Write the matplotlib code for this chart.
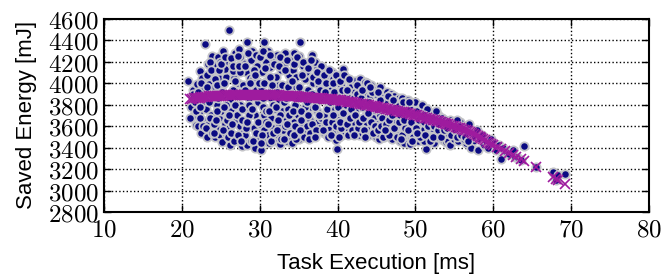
import numpy as np
import matplotlib.pyplot as plt
from matplotlib.ticker import FuncFormatter

plt.rcParams['mathtext.fontset'] = 'cm'
plt.rcParams['font.family'] = ['Liberation Sans', 'DejaVu Sans']

# measured task runs, batch A (execution time, saved energy)
task_ms = [
    20.8, 21.4, 21.6, 21.2, 21.8, 21.5, 21.9,
    22.1, 22.3, 22.5, 22.2, 22.7, 22.4, 22.8, 22.6, 22.9,
    23.0, 23.2, 23.4, 23.1, 23.6, 23.3, 23.8, 23.5, 23.7, 23.9, 23.2,
    24.2, 24.0, 24.4, 24.6, 24.3, 24.8, 24.5, 24.1, 24.7, 24.9, 24.4,
    25.1, 25.3, 25.5, 25.0, 25.7, 25.2, 25.6, 25.8, 25.4, 25.9, 25.5,
    26.0, 26.2, 26.4, 26.1, 26.6, 26.3, 26.8, 26.5, 26.7, 26.9, 26.2, 26.6,
    27.0, 27.3, 27.5, 27.2, 27.7, 27.4, 27.8, 27.1, 27.6, 27.9, 27.5,
    28.0, 28.3, 28.5, 28.2, 28.7, 28.4, 28.9, 28.1, 28.6, 28.8, 28.3,
    29.0, 29.3, 29.5, 29.2, 29.7, 29.4, 29.8, 29.1, 29.6, 29.9, 29.4,
    30.2, 30.5, 30.0, 30.3, 30.7, 30.4, 30.8, 30.1, 30.6, 30.9, 30.5,
    31.0, 31.2, 31.5, 31.3, 31.7, 31.4, 31.8, 31.1, 31.6, 31.9, 31.3,
    32.0, 32.2, 32.5, 32.3, 32.7, 32.4, 32.8, 32.1, 32.6, 32.9, 32.5,
    33.0, 33.3, 33.5, 33.2, 33.7, 33.4, 33.8, 33.1, 33.6, 33.9, 33.3,
    34.1, 34.0, 34.4, 34.6, 34.3, 34.8, 34.5, 34.2, 34.7, 34.9, 34.4,
    35.2, 35.0, 35.4, 35.6, 35.3, 35.8, 35.5, 35.1, 35.7, 35.9,
    36.0, 36.3, 36.7, 36.5, 36.2, 36.8, 36.4, 36.6, 36.9, 36.1,
    37.0, 37.3, 37.5, 37.2, 37.7, 37.4, 37.8, 37.1, 37.6, 37.9,
    38.0, 38.3, 38.5, 38.2, 38.7, 38.4, 38.8, 38.1, 38.6, 38.9,
    39.0, 39.3, 39.5, 39.2, 39.7, 39.4, 39.8, 39.1, 39.6, 39.9, 39.8,
    40.0, 40.3, 40.7, 40.5, 40.2, 40.8, 40.4, 40.6, 40.9, 40.1,
    41.0, 41.3, 41.5, 41.2, 41.7, 41.4, 41.8, 41.1, 41.6, 41.9,
    42.0, 42.3, 42.5, 42.2, 42.7, 42.4, 42.8, 42.1, 42.6, 42.9,
    43.0, 43.3, 43.5, 43.2, 43.7, 43.4, 43.8, 43.1, 43.6, 43.9,
    44.0, 44.3, 44.5, 44.2, 44.7, 44.4, 44.8, 44.1, 44.6, 44.9,
    45.0, 45.3, 45.5, 45.2, 45.7, 45.4, 45.8, 45.1, 45.6, 45.9,
    46.0, 46.3, 46.5, 46.2, 46.7, 46.4, 46.8, 46.1, 46.6, 46.9,
    47.0, 47.3, 47.5, 47.2, 47.7, 47.4, 47.8, 47.1, 47.6, 47.9,
    48.0, 48.3, 48.5, 48.2, 48.7, 48.4, 48.8, 48.1, 48.6, 48.9,
    49.0, 49.3, 49.5, 49.2, 49.7, 49.4, 49.8, 49.1, 49.6,
    50.0, 50.3, 50.5, 50.2, 50.7, 50.4, 50.8, 50.1, 50.9,
    51.0, 51.4, 51.5, 51.2, 51.7, 51.4, 51.8, 51.1, 51.9,
    52.0, 52.3, 52.5, 52.2, 52.7, 52.4, 52.8, 52.1, 52.9,
    53.0, 53.3, 53.5, 53.2, 53.7, 53.4, 53.8, 53.9,
    54.0, 54.4, 54.5, 54.2, 54.7, 54.8, 54.1, 54.4,
    55.0, 55.3, 55.7, 55.2, 55.5, 55.8, 55.4,
    56.0, 56.3, 56.5, 56.7, 56.2, 56.9,
    57.0, 57.4, 57.7, 57.2, 57.9,
    58.0, 58.3, 58.6, 58.8,
    59.1, 59.4, 59.7,
    60.1, 60.4, 60.8,
    61.0, 61.3, 61.6,
    62.1, 62.5, 62.8,
    63.2, 63.6,
    64.0, 65.5, 67.7, 68.1, 68.3, 69.2,
]
saved_mj = [
    4023, 3940, 3700, 3780, 3610, 3860, 3990,
    3600, 4110, 3880, 3720, 3960, 3540, 3800, 4050, 3650,
    4363, 3500, 4180, 3760, 3900, 3620, 4060, 3990, 3700, 4250, 3850,
    3494, 4120, 3580, 4240, 3960, 3680, 3800, 3900, 4050, 3520, 4170,
    3450, 4300, 3620, 3740, 4060, 3980, 3530, 4200, 3880, 3700, 4130,
    4497, 3420, 4180, 3580, 3940, 3760, 4280, 3500, 4050, 3650, 3840, 4110,
    3470, 4320, 3600, 4000, 3416, 3800, 4190, 3700, 3920, 3540, 4240,
    3640, 4382, 3460, 4100, 3760, 3980, 4220, 3520, 3860, 4050, 3420,
    4300, 3580, 3940, 3440, 4160, 3700, 3820, 4040, 3500, 4250, 3400,
    3382, 4382, 3620, 4100, 3480, 3780, 4200, 3960, 3560, 4020, 3700,
    4300, 3440, 3860, 4150, 3580, 3680, 4000, 3520, 4240, 3760, 3920,
    3460, 4260, 3620, 3980, 4120, 3520, 3740, 4060, 3430, 4200, 3840,
    3560, 4280, 3460, 3900, 4080, 3680, 3500, 4180, 3760, 4000, 3600,
    3438, 4220, 3640, 3960, 4120, 3520, 3800, 3560, 4060, 3700, 4280,
    4382, 3480, 3900, 4160, 3600, 4040, 3720, 4250, 3540, 3820,
    4100, 3500, 4264, 3660, 3940, 3560, 4180, 3780, 4000, 3600,
    3520, 4140, 3640, 3900, 4060, 3740, 3580, 4200, 3980, 3680,
    4150, 3540, 3960, 3700, 4080, 3600, 3820, 4020, 3520, 3900,
    3580, 4100, 3500, 3940, 3680, 4040, 3560, 3760, 3880, 3391, 3470,
    4060, 3560, 4130, 3700, 3920, 3620, 3980, 3520, 3860, 3660,
    4060, 3580, 3940, 3700, 4000, 3520, 3640, 3880, 3760, 3980,
    3560, 4020, 3660, 3920, 3520, 3760, 3960, 3620, 3840, 4040,
    3600, 3980, 4014, 3540, 3700, 3900, 3580, 3780, 3640, 3960,
    3520, 3980, 3620, 3880, 3560, 3700, 3940, 3760, 3680, 3500,
    3900, 3480, 3960, 3620, 3560, 3700, 3880, 3540, 3800, 3640,
    3500, 3920, 3580, 3680, 3860, 3540, 3640, 3840, 3720, 3900,
    3480, 3880, 3600, 3540, 3820, 3660, 3520, 3760, 3700, 3860,
    3460, 3860, 3560, 3640, 3800, 3500, 3600, 3780, 3440, 3680,
    3840, 3430, 3540, 3620, 3780, 3480, 3580, 3700, 3660,
    3820, 3460, 3560, 3640, 3760, 3520, 3600, 3700, 3480,
    3560, 3391, 3620, 3740, 3500, 3680, 3580, 3460, 3700,
    3480, 3720, 3540, 3620, 3660, 3440, 3500, 3580, 3700,
    3540, 3680, 3470, 3600, 3640, 3520, 3580, 3450,
    3620, 3656, 3500, 3460, 3580, 3640, 3540, 3420,
    3480, 3600, 3640, 3530, 3460, 3580, 3660,
    3520, 3600, 3440, 3560, 3480, 3620,
    3540, 3460, 3500, 3400, 3560,
    3382, 3480, 3520, 3420,
    3460, 3400, 3480,
    3441, 3380, 3420,
    3298, 3400, 3360,
    3340, 3376, 3310,
    3300, 3280,
    3413, 3220, 3173, 3095, 3140, 3151,
]

# measured task runs, batch B
task_ms_b = [
    21.05, 21.35, 21.65, 21.85,
    22.05, 22.25, 22.45, 22.65, 22.85, 22.35,
    23.05, 23.25, 23.45, 23.65, 23.85, 23.15, 23.55, 23.75,
    24.05, 24.25, 24.45, 24.65, 24.85, 24.15, 24.55, 24.75, 24.35,
    25.05, 25.25, 25.45, 25.65, 25.85, 25.15, 25.55, 25.75, 25.35,
    26.05, 26.25, 26.45, 26.65, 26.85, 26.15, 26.55, 26.75, 26.35,
    27.05, 27.25, 27.45, 27.65, 27.85, 27.15, 27.55, 27.75, 27.35,
    28.05, 28.25, 28.45, 28.65, 28.85, 28.15, 28.55, 28.75, 28.35,
    29.05, 29.25, 29.45, 29.65, 29.85, 29.15, 29.55, 29.75, 29.35,
    30.05, 30.25, 30.45, 30.65, 30.85, 30.15, 30.55, 30.75, 30.35,
    31.05, 31.25, 31.45, 31.65, 31.85, 31.15, 31.55, 31.75, 31.35,
    32.05, 32.25, 32.45, 32.65, 32.85, 32.15, 32.55, 32.75, 32.35,
    33.05, 33.25, 33.45, 33.65, 33.85, 33.15, 33.55, 33.75, 33.35,
    34.05, 34.25, 34.45, 34.65, 34.85, 34.15, 34.55, 34.75, 34.35,
    35.05, 35.25, 35.45, 35.65, 35.85, 35.15, 35.55, 35.75, 35.35,
    36.05, 36.25, 36.45, 36.65, 36.85, 36.15, 36.55, 36.75, 36.35,
    37.05, 37.25, 37.45, 37.65, 37.85, 37.15, 37.55, 37.75, 37.35,
    38.05, 38.25, 38.45, 38.65, 38.85, 38.15, 38.55, 38.75, 38.35,
    39.05, 39.25, 39.45, 39.65, 39.85, 39.15, 39.55, 39.75, 39.35,
    40.05, 40.25, 40.45, 40.65, 40.85, 40.15, 40.55, 40.75, 40.35,
    41.05, 41.25, 41.45, 41.65, 41.85, 41.15, 41.55, 41.75,
    42.05, 42.25, 42.45, 42.65, 42.85, 42.15, 42.55, 42.75,
    43.05, 43.25, 43.45, 43.65, 43.85, 43.15, 43.55, 43.75,
    44.05, 44.25, 44.45, 44.65, 44.85, 44.15, 44.55,
    45.05, 45.25, 45.45, 45.65, 45.85, 45.15, 45.55,
    46.05, 46.25, 46.45, 46.65, 46.85, 46.15, 46.55,
    47.05, 47.25, 47.45, 47.65, 47.85, 47.15, 47.55,
    48.05, 48.25, 48.45, 48.65, 48.85, 48.15, 48.55,
    49.05, 49.25, 49.45, 49.65, 49.85, 49.15, 49.55,
    50.05, 50.25, 50.45, 50.65, 50.85, 50.15,
    51.05, 51.25, 51.45, 51.65, 51.85, 51.15,
    52.05, 52.25, 52.45, 52.65, 52.85, 52.15,
    53.05, 53.25, 53.45, 53.65, 53.85,
    54.05, 54.25, 54.55, 54.85,
    55.05, 55.35, 55.65, 55.9,
    56.1, 56.4, 56.8,
]
saved_mj_b = [
    3680, 3900, 3820, 3740,
    3920, 3680, 4000, 3600, 3880, 3780,
    3580, 4080, 3820, 4200, 3540, 3960, 3680, 4120,
    3620, 4040, 3740, 3860, 4200, 3540, 3980, 4120, 3660,
    4180, 3560, 4000, 3800, 3500, 3920, 4240, 3660, 3780,
    3700, 4230, 3620, 3460, 4020, 3900, 4160, 3800, 3540,
    3880, 3520, 4100, 3760, 3980, 4250, 3460, 3660, 4160,
    3940, 3580, 4280, 3700, 3460, 4160, 3800, 4000, 3640,
    3760, 4120, 3540, 3880, 4000, 3460, 4260, 3640, 4080,
    4240, 3520, 3860, 4140, 3640, 3440, 4000, 3740, 4300,
    3620, 4060, 3460, 3800, 4180, 3740, 3980, 3540, 4260,
    3780, 3560, 4160, 3700, 3980, 3920, 4240, 3480, 3660,
    3820, 4120, 3620, 3960, 3540, 3480, 4220, 3700, 3860,
    3900, 3740, 4180, 3480, 3860, 4020, 3600, 4240, 3520,
    3960, 3660, 4080, 3500, 3780, 3560, 4200, 3880, 3740,
    3820, 4140, 3540, 3900, 4060, 3700, 4220, 3620, 3480,
    3780, 3560, 4020, 3840, 4160, 3500, 3700, 3940, 4100,
    3860, 4080, 3640, 3760, 4120, 3560, 4000, 3500, 3920,
    3820, 3640, 4000, 3760, 4080, 3520, 3920, 3600, 3700,
    3780, 4020, 3580, 3840, 4080, 3500, 3940, 3720, 3640,
    3800, 3620, 4040, 3860, 3560, 3940, 3680, 3760,
    3860, 3700, 3980, 3580, 3800, 3520, 3900, 3640,
    3860, 3680, 3560, 3820, 3720, 3940, 3500, 4000,
    3820, 3640, 3920, 3780, 3600, 3960, 3540,
    3760, 3560, 3840, 3680, 3500, 3920, 3600,
    3760, 3620, 3880, 3520, 3780, 3560, 3660,
    3700, 3580, 3800, 3500, 3640, 3840, 3740,
    3700, 3520, 3820, 3580, 3740, 3480, 3660,
    3560, 3760, 3640, 3500, 3720, 3820, 3460,
    3580, 3740, 3660, 3500, 3800, 3540,
    3640, 3520, 3760, 3600, 3460, 3700,
    3640, 3500, 3600, 3740, 3560, 3680,
    3620, 3500, 3680, 3560, 3660,
    3580, 3640, 3520, 3600,
    3560, 3500, 3600, 3520,
    3560, 3500, 3460,
]

# model estimate of saved energy
model_ms = [
    21.0, 21.25, 21.5, 21.75, 22.0, 22.25, 22.5, 22.75, 23.0, 23.25,
    23.5, 23.75, 24.0, 24.25, 24.5, 24.75, 25.0, 25.25, 25.5, 25.75,
    26.0, 26.25, 26.5, 26.75, 27.0, 27.25, 27.5, 27.75, 28.0, 28.25,
    28.5, 28.75, 29.0, 29.25, 29.5, 29.75, 30.0, 30.25, 30.5, 30.75,
    31.0, 31.25, 31.5, 31.75, 32.0, 32.25, 32.5, 32.75, 33.0, 33.25,
    33.5, 33.75, 34.0, 34.25, 34.5, 34.75, 35.0, 35.25, 35.5, 35.75,
    36.0, 36.25, 36.5, 36.75, 37.0, 37.25, 37.5, 37.75, 38.0, 38.25,
    38.5, 38.75, 39.0, 39.25, 39.5, 39.75, 40.0, 40.25, 40.5, 40.75,
    41.0, 41.25, 41.5, 41.75, 42.0, 42.25, 42.5, 42.75, 43.0, 43.25,
    43.5, 43.75, 44.0, 44.25, 44.5, 44.75, 45.0, 45.25, 45.5, 45.75,
    46.0, 46.25, 46.5, 46.75, 47.0, 47.25, 47.5, 47.75, 48.0, 48.25,
    48.5, 48.75, 49.0, 49.25, 49.5, 49.75, 50.0, 50.25, 50.5, 50.75,
    51.0, 51.25, 51.5, 51.75, 52.0, 52.25, 52.5, 52.75, 53.0, 53.25,
    53.5, 53.75, 54.0, 54.25, 54.5, 54.75, 55.0, 55.25, 55.5, 55.75,
    56.0, 56.25, 56.5, 56.75, 57.0, 57.25, 57.5, 57.75, 58.0, 58.25,
    58.5, 58.75, 59.0, 59.25, 59.5, 59.75, 60.0, 60.5, 61.0, 61.5,
    62.0, 62.5, 63.0, 63.6, 64.0, 65.5, 67.7, 68.1, 68.3, 69.2,
]
model_mj = [
    3852, 3855, 3858, 3861, 3863, 3866, 3868, 3870, 3872, 3874,
    3876, 3878, 3879, 3881, 3882, 3883, 3884, 3885, 3886, 3887,
    3888, 3888, 3889, 3890, 3890, 3890, 3891, 3891, 3891, 3891,
    3891, 3891, 3891, 3891, 3890, 3890, 3890, 3890, 3889, 3889,
    3889, 3888, 3888, 3887, 3887, 3886, 3886, 3885, 3884, 3883,
    3882, 3881, 3880, 3879, 3878, 3876, 3875, 3873, 3872, 3870,
    3869, 3867, 3866, 3864, 3863, 3862, 3861, 3859, 3858, 3856,
    3855, 3853, 3851, 3849, 3847, 3845, 3843, 3840, 3838, 3835,
    3832, 3829, 3826, 3823, 3820, 3817, 3814, 3810, 3807, 3804,
    3801, 3797, 3794, 3790, 3787, 3783, 3780, 3776, 3772, 3769,
    3765, 3762, 3758, 3754, 3750, 3747, 3743, 3739, 3735, 3731,
    3727, 3723, 3719, 3715, 3711, 3707, 3703, 3699, 3694, 3689,
    3684, 3679, 3674, 3669, 3664, 3659, 3654, 3649, 3643, 3638,
    3632, 3627, 3621, 3616, 3610, 3604, 3598, 3592, 3586, 3580,
    3574, 3567, 3560, 3553, 3545, 3536, 3527, 3517, 3507, 3497,
    3487, 3477, 3466, 3456, 3446, 3436, 3425, 3406, 3387, 3368,
    3350, 3332, 3314, 3290, 3276, 3220, 3130, 3110, 3100, 3060,
]

xticks = [10, 20, 30, 40, 50, 60, 70, 80]
yticks = [2800, 3000, 3200, 3400, 3600, 3800, 4000, 4200, 4400, 4600]

fig = plt.figure(figsize=(6.64, 2.76), dpi=100)
ax = fig.add_axes([0.157, 0.232, 0.820, 0.700])

ax.scatter(task_ms + task_ms_b, saved_mj + saved_mj_b, s=36, c='#0a0a82',
           edgecolors='#c4c4c8', linewidths=1.3, zorder=2)
ax.plot(model_ms, model_mj, 'x', color='#9e1b9e', ms=7, mew=1.2, zorder=3)

ax.set_xlim(10, 80)
ax.set_ylim(2800, 4600)
ax.set_xticks(xticks)
ax.set_yticks(yticks)
fmt = FuncFormatter(lambda v, p: r'$%d$' % v)
ax.xaxis.set_major_formatter(fmt)
ax.yaxis.set_major_formatter(fmt)
ax.tick_params(direction='in', top=True, right=True, length=5, width=1,
               labelsize=18, pad=4)
ax.grid(True, color='k', linestyle=':', linewidth=1)
ax.set_axisbelow(True)
for sp in ax.spines.values():
    sp.set_linewidth(1.5)

ax.set_xlabel('Task Execution [ms]', fontsize=16, labelpad=8)
ax.set_ylabel('Saved Energy [mJ]', fontsize=16, labelpad=8)

fig.savefig('out.png', dpi=100)
